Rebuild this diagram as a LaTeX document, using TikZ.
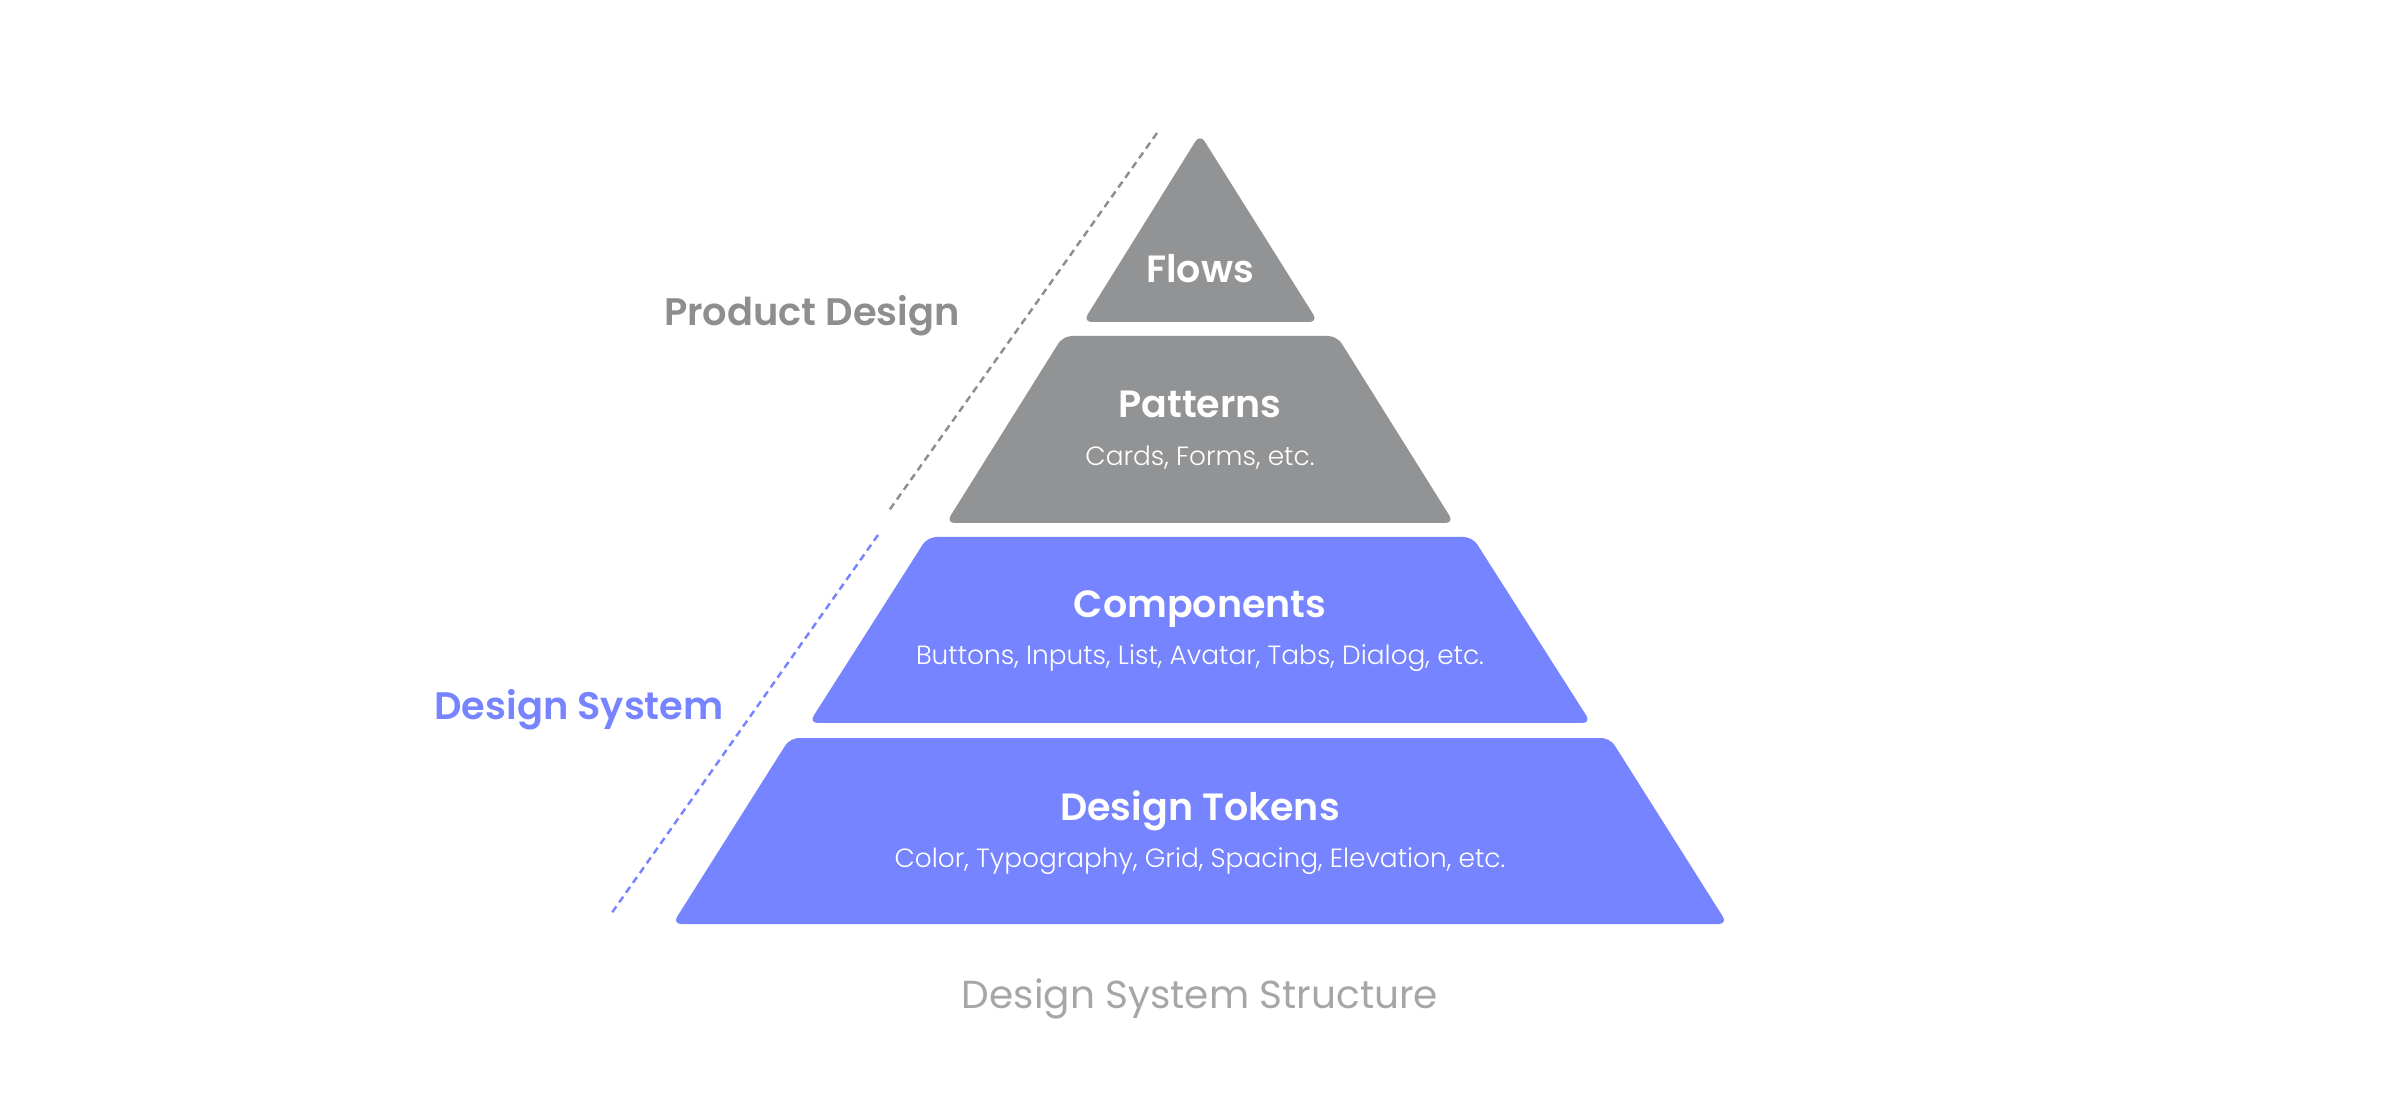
\documentclass[tikz,border=0pt]{standalone}
\usepackage{fontspec}
\setmainfont{Poppins}
\newfontfamily\popsemi{Poppins SemiBold}
\newfontfamily\popmed{Poppins Medium}
\newfontfamily\poplight{Poppins Light}
\usepackage{xcolor}
\definecolor{layergray}{HTML}{929395}
\definecolor{layerblue}{HTML}{7784FF}
\definecolor{labelgray}{HTML}{8E8E8E}
\definecolor{captiongray}{HTML}{A6A6A6}
\newcommand{\layer}[4]% top y, bottom y, top half width, bottom half width
{(1200-#3,#1) -- (1200+#3,#1) -- (1200+#4,#2) -- (1200-#4,#2) -- cycle
}
\tikzset{
  title/.style={white,anchor=base,font=\popsemi\fontsize{10.8}{12}\selectfont},
  subtitle/.style={white,anchor=base,font=\poplight\fontsize{7.5}{9}\selectfont},
  side/.style={anchor=base,font=\popsemi\fontsize{10.9}{13}\selectfont},
  guide/.style={line width=0.7pt,dash pattern=on 2pt off 1.4pt}
}

\begin{document}
\begin{tikzpicture}[x=0.01cm,y=-0.01cm]
\path[use as bounding box] (0,0) rectangle (2401,1101);
% pyramid
\fill[layergray,rounded corners=2.5pt] (1200,134) -- (1318,322) -- (1083,322) -- cycle;
\fill[layergray,rounded corners=2.5pt] \layer{336}{523}{137}{254};
\fill[layerblue,rounded corners=2.5pt] \layer{537}{723}{272.5}{391};
\fill[layerblue,rounded corners=2.5pt] \layer{738}{924}{410}{527.5};
% texts
\node[title] (flows) at (1200,283) {Flows};
\node[title] (patterns) at (1200,418) {Patterns};
\node[subtitle] (patternsex) at (1200,466) {Cards, Forms, etc.};
\node[title] (components) at (1200,618) {Components};
\node[subtitle] (componentsex) at (1200,665) {Buttons, Inputs, List, Avatar, Tabs, Dialog, etc.};
\node[title] (tokens) at (1200,820) {Design Tokens};
\node[subtitle] (tokensex) at (1200,867) {Color, Typography, Grid, Spacing, Elevation, etc.};
% side labels
\coordinate (pdtop) at (1157,133);
\coordinate (pdbot) at (888,512);
\coordinate (dstop) at (878,535);
\coordinate (dsbot) at (611,914);
\draw[guide,labelgray] (pdtop) -- (pdbot);
\draw[guide,layerblue] (dstop) -- (dsbot);
\node[side,labelgray] (product) at (812,326) {Product Design};
\node[side,layerblue] (system) at (579,720) {Design System};
\node[anchor=base,captiongray,font=\fontsize{11.1}{13}\selectfont] (caption) at (1200,1008) {Design System Structure};
\end{tikzpicture}
\end{document}
